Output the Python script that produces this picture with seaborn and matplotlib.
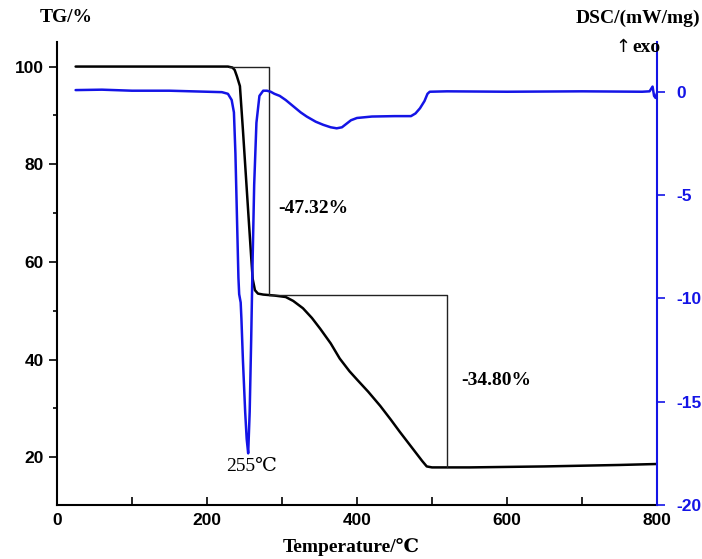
import numpy as np
import pandas as pd
import matplotlib
matplotlib.use("Agg")
import matplotlib.pyplot as plt
import seaborn as sns
from matplotlib.ticker import MultipleLocator

# TG curve (mass %)
tg_temp = [25, 228, 234, 237, 240, 244, 248, 252, 256, 259, 261, 264, 268, 275,
           290, 305, 315, 328, 340, 351, 365, 377, 390, 400, 415, 431, 445, 457,
           470, 480, 487, 493, 500, 550, 650, 750, 800]
tg_mass = [100, 100, 99.8, 99.3, 98.0, 96.0, 87.0, 77.5, 68.0, 61.0, 56.5, 54.2,
           53.5, 53.3, 53.1, 52.8, 52.0, 50.5, 48.5, 46.3, 43.3, 40.2, 37.6, 35.9,
           33.4, 30.5, 27.7, 25.2, 22.6, 20.6, 19.2, 18.1, 17.9, 17.9, 18.1, 18.4, 18.6]

# DSC curve (mW/mg)
dsc_temp = [25, 60, 100, 150, 200, 220, 228, 233, 236, 238, 240, 242, 243, 245,
            246, 248, 251, 253, 255, 257, 259, 261, 263, 266, 270, 275, 280, 285,
            290, 297, 305, 315, 325, 333, 345, 355, 365, 373, 380, 386, 392, 400,
            420, 450, 472, 478, 484, 490, 494, 497, 520, 600, 700, 780, 790, 794,
            796, 798, 800]
dsc_val = [0.08, 0.1, 0.05, 0.05, 0.0, -0.02, -0.1, -0.4, -1.0, -3.0, -6.0, -9.0,
           -9.8, -10.2, -11.0, -13.0, -15.5, -16.8, -17.5, -15.5, -12.0, -8.0, -4.5,
           -1.5, -0.2, 0.05, 0.05, 0.0, -0.1, -0.2, -0.4, -0.7, -1.0, -1.2, -1.45,
           -1.6, -1.72, -1.77, -1.72, -1.55, -1.38, -1.27, -1.2, -1.18, -1.18, -1.05,
           -0.8, -0.45, -0.1, 0.0, 0.02, 0.0, 0.02, 0.0, 0.02, 0.25, -0.2, -0.3, -0.05]

# mass-loss steps
step1_x = [230, 283, 283]
step1_y = [100, 100, 53.3]
step2_x = [283, 520, 520]
step2_y = [53.3, 53.3, 17.9]
step_labels = ["-47.32%", "-34.80%"]
peak_label = "255℃"

tg_df = pd.DataFrame({"T": tg_temp, "TG": tg_mass})
dsc_df = pd.DataFrame({"T": dsc_temp, "DSC": dsc_val})

sns.set_style("ticks")
plt.rcParams["font.family"] = ["Liberation Sans Narrow", "Liberation Sans", "DejaVu Sans"]
plt.rcParams["axes.unicode_minus"] = False
plt.rcParams["text.color"] = "black"
serif = ["Liberation Serif", "DejaVu Serif"]
blue = "#1414e6"

fig = plt.figure(figsize=(7.02, 5.59), dpi=100)
ax = fig.add_axes([0.081, 0.0966, 0.855, 0.828])
ax2 = ax.twinx()

sns.lineplot(data=tg_df, x="T", y="TG", ax=ax, color="black", lw=1.8)
ax.plot(step1_x, step1_y, color="#222222", lw=1.0)
ax.plot(step2_x, step2_y, color="#222222", lw=1.0)
sns.lineplot(data=dsc_df, x="T", y="DSC", ax=ax2, color=blue, lw=1.8)

ax.set_xlim(0, 800)
ax.set_ylim(10.2, 105)
ax2.set_ylim(-20, 2.4)

ax.xaxis.set_major_locator(MultipleLocator(200))
ax.xaxis.set_minor_locator(MultipleLocator(100))
ax.yaxis.set_major_locator(MultipleLocator(20))
ax.yaxis.set_minor_locator(MultipleLocator(10))
ax2.yaxis.set_major_locator(MultipleLocator(5))

ax.tick_params(axis="x", which="both", direction="in", length=6, width=1.2, pad=6,
               colors="black")
ax.tick_params(axis="y", which="major", direction="out", length=6, width=1.2, colors="black")
ax.tick_params(axis="y", which="minor", direction="out", length=3, width=1.2, colors="black")
ax2.tick_params(axis="y", direction="out", length=6, width=1.2, colors=blue, pad=8)

for lab in ax.get_xticklabels() + ax.get_yticklabels() + ax2.get_yticklabels():
    lab.set_fontweight("bold")
    lab.set_fontsize(12.5)

ax.spines["top"].set_visible(False)
ax.spines["right"].set_visible(False)
ax2.spines["top"].set_visible(False)
ax2.spines["left"].set_visible(False)
ax2.spines["bottom"].set_visible(False)
ax2.spines["right"].set_color(blue)
for sp in ["left", "bottom"]:
    ax.spines[sp].set_linewidth(1.5)
    ax.spines[sp].set_color("black")
ax2.spines["right"].set_linewidth(1.5)

ax.set_xlabel("")
ax.set_ylabel("")
ax2.set_ylabel("")

ax.text(295, 71, step_labels[0], family=serif, fontweight="bold", fontsize=14, va="center")
ax.text(539, 35.7, step_labels[1], family=serif, fontweight="bold", fontsize=14, va="center")
ax.text(260, 18.0, peak_label, family=serif, fontsize=14, ha="center", va="center")

fig.text(40 / 702, 1 - 18 / 559, "TG/%", family=serif, fontweight="bold", fontsize=14, va="center")
fig.text(700 / 702, 1 - 18 / 559, "DSC/(mW/mg)", family=serif, fontweight="bold", fontsize=14,
         va="center", ha="right")
fig.text(632 / 702, 1 - 48 / 559, "exo", family=serif, fontweight="bold", fontsize=14, va="center")
fig.text(623 / 702, 1 - 47 / 559, "↑", family=["DejaVu Sans"], fontsize=13, va="center", ha="center")
fig.text(0.5, 1 - 547 / 559, "Temperature/℃", family=serif, fontweight="bold", fontsize=14,
         ha="center", va="center")

fig.savefig("out.png", dpi=100)
